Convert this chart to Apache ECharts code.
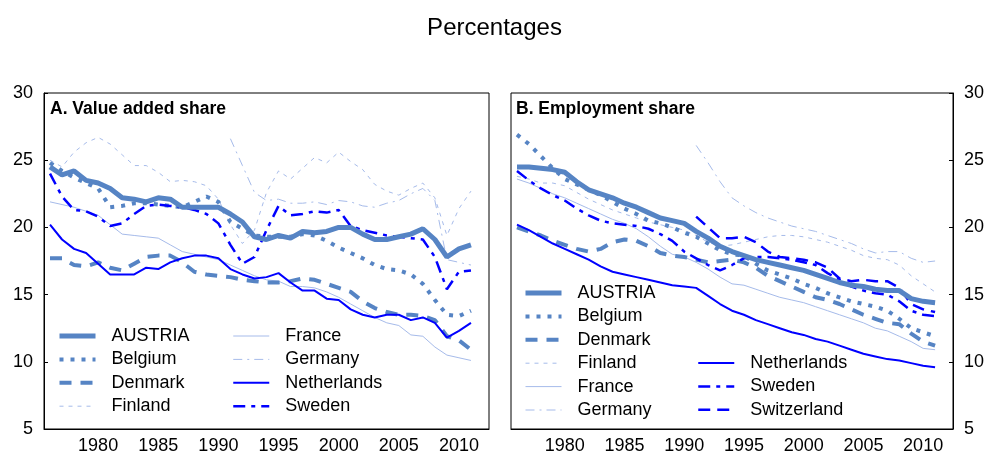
<!DOCTYPE html>
<html>
<head>
<meta charset="utf-8">
<script src="https://cdn.jsdelivr.net/npm/echarts@6/dist/echarts.min.js"></script>
<style>
  html, body { margin: 0; padding: 0; background: #fff; }
  #chart { width: 989px; height: 453px; }
</style>
</head>
<body>
<div id="chart"></div>
<script>
// years on the category axis (2012 is an empty slot, gives the space at the right end)
var years = [1976, 1977, 1978, 1979, 1980, 1981, 1982, 1983, 1984, 1985, 1986, 1987, 1988,
    1989, 1990, 1991, 1992, 1993, 1994, 1995, 1996, 1997, 1998, 1999, 2000, 2001, 2002,
    2003, 2004, 2005, 2006, 2007, 2008, 2009, 2010, 2011, 2012];

/* A. Value added share */
var vaAustria = [24.5, 23.9, 24.2, 23.5, 23.3, 22.9, 22.2, 22.1, 21.9, 22.2, 22.1, 21.5,
    21.5, 21.5, 21.5, 21.0, 20.4, 19.3, 19.1, 19.4, 19.2, 19.7, 19.6, 19.7, 20.0, 20.0,
    19.5, 19.1, 19.1, 19.3, 19.5, 19.9, 19.1, 17.8, 18.4, 18.7];
var vaBelgium = [24.8, 24.2, 23.7, 23.3, 22.9, 21.5, 21.6, 21.8, 21.8, 21.7, 21.6, 21.5,
    21.9, 22.3, 21.9, 20.4, 19.9, 19.4, 19.3, 19.3, 19.3, 19.5, 19.4, 19.0, 18.5, 18.1,
    17.7, 17.2, 16.9, 16.8, 16.5, 15.8, 14.6, 13.5, 13.4, 13.8];
var vaDenmark = [17.7, 17.7, 17.2, 17.1, 17.4, 17.0, 16.8, 17.3, 17.8, 17.9, 17.9, 17.4,
    16.7, 16.5, 16.4, 16.3, 16.1, 16.0, 15.9, 15.9, 16.0, 16.2, 16.1, 15.8, 15.5, 15.2,
    14.5, 14.0, 13.7, 13.5, 13.5, 13.4, 13.1, 11.9, 11.6, 10.9];
var vaFinland = [25.0, 24.5, 25.6, 26.3, 26.7, 26.2, 25.4, 24.6, 24.6, 24.1, 23.4, 23.5,
    23.4, 23.1, 22.1, 20.2, 18.8, 19.8, 22.6, 24.2, 23.6, 24.4, 25.2, 24.8, 25.6, 24.9,
    24.3, 23.2, 22.7, 22.4, 22.9, 23.3, 22.2, 19.4, 21.4, 22.7];
var vaFrance = [21.9, 21.7, 21.5, 21.2, 20.9, 20.2, 19.5, 19.4, 19.3, 19.2, 18.7, 18.2,
    18.0, 17.8, 17.6, 17.2, 16.8, 16.4, 16.1, 16.0, 15.6, 15.6, 15.5, 15.2, 14.8, 14.3,
    13.8, 13.3, 12.9, 12.7, 12.0, 11.9, 11.1, 10.5, 10.3, 10.1];
var vaGermany = [null, null, null, null, null, null, null, null, null, null, null, null,
    null, null, null, 26.6, 24.6, 22.6, 22.0, 22.1, 21.8, 21.8, 21.9, 21.7, 22.0, 21.9,
    21.6, 21.5, 21.8, 22.0, 22.5, 22.9, 22.0, 17.6, 17.4, 17.2];
var vaNetherlands = [20.2, 19.1, 18.4, 18.1, 17.3, 16.5, 16.5, 16.5, 17.0, 16.9, 17.4, 17.7,
    17.9, 17.9, 17.7, 16.9, 16.5, 16.2, 16.3, 16.6, 15.9, 15.3, 15.3, 14.7, 14.6, 13.9,
    13.5, 13.3, 13.5, 13.5, 13.1, 13.3, 12.9, 11.8, 12.3, 12.9];
var vaSweden = [24.0, 22.3, 21.3, 21.2, 20.8, 20.1, 20.3, 21.0, 21.6, 21.7, 21.6, 21.5,
    21.3, 21.0, 20.3, 18.7, 17.3, 17.8, 19.8, 21.6, 20.9, 21.0, 21.2, 21.1, 21.3, 20.1,
    19.8, 19.6, 19.4, 19.3, 19.2, 19.1, 17.8, 15.4, 16.7, 16.8];

/* B. Employment share */
var emAustria = [24.5, 24.5, 24.4, 24.3, 24.1, 23.4, 22.8, 22.5, 22.2, 21.8, 21.5, 21.1,
    20.7, 20.5, 20.3, 19.7, 19.2, 18.6, 18.2, 17.9, 17.6, 17.4, 17.2, 17.0, 16.8, 16.5,
    16.2, 15.9, 15.7, 15.6, 15.4, 15.3, 15.3, 14.7, 14.5, 14.4];
var emBelgium = [26.9, 26.2, 25.3, 24.4, 23.6, 23.2, 22.8, 22.4, 21.9, 21.4, 21.0, 20.5,
    20.3, 20.0, 19.6, 19.3, 18.8, 18.3, 18.0, 17.9, 17.3, 16.8, 16.5, 16.2, 15.8, 15.5,
    15.1, 14.8, 14.5, 14.3, 14.1, 13.8, 13.2, 12.5, 12.2, 11.9];
var emDenmark = [20.0, 19.7, 19.4, 19.0, 18.7, 18.4, 18.2, 18.4, 18.9, 19.1, 19.0, 18.6,
    18.1, 17.9, 17.8, 17.6, 17.4, 17.5, 17.6, 17.4, 17.0, 16.4, 16.0, 15.6, 15.2, 14.8,
    14.6, 14.3, 13.9, 13.5, 13.2, 12.9, 12.8, 12.1, 11.5, 11.2];
var emFinland = [23.8, 23.6, 23.3, 23.3, 23.1, 22.6, 22.1, 21.7, 21.3, 21.0, 20.7, 20.4,
    20.2, 20.0, 19.8, 19.4, 18.9, 18.6, 18.7, 18.9, 19.1, 19.3, 19.4, 19.4, 19.3, 19.1,
    18.9, 18.6, 18.3, 17.9, 17.7, 17.6, 17.2, 16.4, 15.8, 15.2];
var emFrance = [23.6, 23.3, 22.9, 22.5, 22.2, 21.8, 21.4, 21.0, 20.6, 20.3, 19.9, 19.3,
    18.6, 18.0, 17.8, 17.4, 16.9, 16.3, 15.8, 15.7, 15.4, 15.1, 14.8, 14.6, 14.4, 14.1,
    13.8, 13.5, 13.2, 12.9, 12.5, 12.3, 11.9, 11.5, 11.0, 10.9];
var emGermany = [null, null, null, null, null, null, null, null, null, null, null, null,
    null, null, null, 26.1, 24.8, 23.4, 22.2, 21.6, 21.1, 20.7, 20.4, 20.1, 19.9, 19.7,
    19.4, 19.1, 18.8, 18.4, 18.1, 18.2, 18.2, 17.7, 17.4, 17.5];
var emNetherlands = [20.2, 19.8, 19.3, 18.8, 18.4, 18.0, 17.6, 17.1, 16.7, 16.5, 16.3, 16.1,
    15.9, 15.7, 15.6, 15.5, 14.9, 14.3, 13.8, 13.5, 13.1, 12.8, 12.5, 12.2, 12.0, 11.7,
    11.5, 11.2, 10.9, 10.6, 10.4, 10.2, 10.1, 9.9, 9.7, 9.6];
var emSweden = [24.2, 23.5, 22.9, 22.4, 22.0, 21.4, 20.9, 20.5, 20.3, 20.2, 20.1, 19.9,
    19.5, 19.0, 18.2, 17.7, 17.2, 16.8, 17.2, 17.7, 17.8, 17.8, 17.7, 17.6, 17.4, 17.2,
    16.6, 16.1, 15.6, 15.3, 15.1, 15.0, 14.5, 13.8, 13.5, 13.4];
var emSwitzerland = [null, null, null, null, null, null, null, null, null, null, null, null,
    null, null, null, 20.8, 20.0, 19.2, 19.2, 19.3, 18.9, 18.2, 17.8, 17.7, 17.6, 17.4,
    17.0, 16.2, 16.0, 16.1, 16.0, 16.0, 15.5, 14.3, 13.9, 13.7];

var steel = '#5684c4';
var light = '#a6bbea';
var blue = '#0000ff';

// style of each country line
var styles = {
    'AUSTRIA':     { color: steel, width: 5,   type: 'solid' },
    'Belgium':     { color: steel, width: 4,   type: [4, 7] },
    'Denmark':     { color: steel, width: 4,   type: [12, 9] },
    'Finland':     { color: light, width: 1,   type: [4, 5] },
    'France':      { color: light, width: 1,   type: 'solid' },
    'Germany':     { color: light, width: 1,   type: [9, 5, 2, 5] },
    'Netherlands': { color: blue,  width: 2,   type: 'solid' },
    'Sweden':      { color: blue,  width: 2.5, type: [12, 6, 4, 6] },
    'Switzerland': { color: blue,  width: 2.5, type: [12, 7] }
};

var font = 'Liberation Sans, Arial';

function line(name, data, idx) {
    var s = styles[name];
    return {
        name: name,
        type: 'line',
        xAxisIndex: idx,
        yAxisIndex: idx,
        data: data,
        symbol: 'none',
        color: s.color,
        lineStyle: { color: s.color, width: s.width, type: s.type, cap: 'butt' },
        z: name === 'AUSTRIA' ? 3 : 2
    };
}

function legendItems(names) {
    var out = [];
    for (var i = 0; i < names.length; i++) {
        var s = styles[names[i]];
        out.push({
            name: names[i],
            itemStyle: { opacity: 0 },
            lineStyle: { color: s.color, width: s.width, type: s.type, opacity: 1 }
        });
    }
    return out;
}

function legendCol(left, top, names) {
    return {
        orient: 'vertical',
        left: left,
        top: top,
        padding: 0,
        itemWidth: 36,
        itemHeight: 12,
        itemGap: 3.4,
        selectedMode: false,
        itemStyle: { opacity: 0 },
        data: legendItems(names),
        textStyle: { color: '#000', fontSize: 18, fontFamily: font, lineHeight: 20, padding: [0, 0, 0, 11] }
    };
}

function xAxis(idx) {
    return {
        type: 'category',
        gridIndex: idx,
        data: years,
        boundaryGap: true,
        axisLine: { lineStyle: { color: '#000', width: 1 } },
        axisTick: {
            inside: true, length: 4,
            interval: function (i) { return i % 2 === 1; },
            lineStyle: { color: '#000' }
        },
        axisLabel: {
            color: '#000', fontSize: 18, fontFamily: font, margin: 8,
            interval: function (i, v) { return Number(v) % 5 === 0 && Number(v) <= 2010; }
        },
        splitLine: { show: false }
    };
}

function yAxis(idx, pos) {
    return {
        type: 'value',
        gridIndex: idx,
        position: pos,
        min: 5, max: 30, interval: 5,
        axisLine: { show: true, lineStyle: { color: '#000' } },
        axisTick: { show: true, inside: true, length: 4, lineStyle: { color: '#000' } },
        axisLabel: { color: '#000', fontSize: 18, fontFamily: font, margin: 11 },
        splitLine: { show: false }
    };
}

var chart = echarts.init(document.getElementById('chart'), null, { renderer: 'canvas' });

var option = {
    animation: false,
    backgroundColor: '#fff',
    title: [
        { text: 'Percentages', left: 'center', top: 16, padding: 0,
          textStyle: { fontSize: 24, fontWeight: 'normal', color: '#000', fontFamily: font } },
        { text: 'A. Value added share', left: 50, top: 100, padding: 0,
          textStyle: { fontSize: 17.5, fontWeight: 'bold', color: '#000', fontFamily: font } },
        { text: 'B. Employment share', left: 516, top: 100, padding: 0,
          textStyle: { fontSize: 17.5, fontWeight: 'bold', color: '#000', fontFamily: font } }
    ],
    grid: [
        { left: 44, top: 93, width: 445, height: 336, show: true, borderColor: '#000', borderWidth: 1,
          containLabel: false, outerBoundsMode: 'none' },
        { left: 511, top: 93, width: 442, height: 336, show: true, borderColor: '#000', borderWidth: 1,
          containLabel: false, outerBoundsMode: 'none' }
    ],
    xAxis: [xAxis(0), xAxis(1)],
    yAxis: [yAxis(0, 'left'), yAxis(1, 'right')],
    legend: [
        legendCol(57, 326, ['AUSTRIA', 'Belgium', 'Denmark', 'Finland']),
        legendCol(232, 326, ['France', 'Germany', 'Netherlands', 'Sweden']),
        legendCol(523, 283, ['AUSTRIA', 'Belgium', 'Denmark', 'Finland', 'France', 'Germany']),
        legendCol(697, 353, ['Netherlands', 'Sweden', 'Switzerland'])
    ],
    series: [
        line('Finland', vaFinland, 0),
        line('France', vaFrance, 0),
        line('Germany', vaGermany, 0),
        line('Denmark', vaDenmark, 0),
        line('Belgium', vaBelgium, 0),
        line('Netherlands', vaNetherlands, 0),
        line('Sweden', vaSweden, 0),
        line('AUSTRIA', vaAustria, 0),

        line('Finland', emFinland, 1),
        line('France', emFrance, 1),
        line('Germany', emGermany, 1),
        line('Denmark', emDenmark, 1),
        line('Belgium', emBelgium, 1),
        line('Netherlands', emNetherlands, 1),
        line('Sweden', emSweden, 1),
        line('Switzerland', emSwitzerland, 1),
        line('AUSTRIA', emAustria, 1)
    ]
};

chart.setOption(option);
</script>
</body>
</html>
